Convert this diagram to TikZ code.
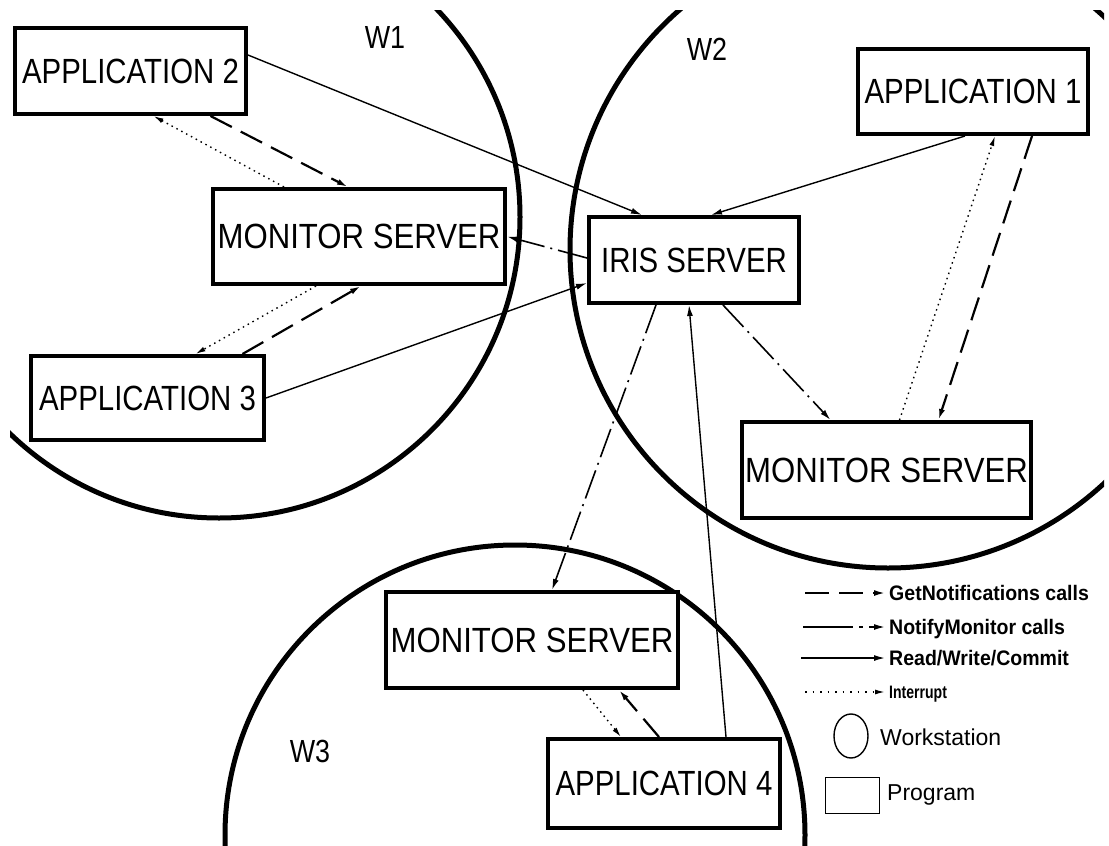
\documentclass[tikz,border=0pt]{standalone}
\usepackage{fontspec}
\setmainfont{Liberation Sans}
\newfontfamily\progfamily[FakeStretch=0.84]{Liberation Sans}
\newfontfamily\monfamily[FakeStretch=0.89]{Liberation Sans}
\newfontfamily\keyfamily[FakeStretch=0.93]{Liberation Sans}
\newfontfamily\tinykeyfamily[FakeStretch=0.78]{Liberation Sans}
\usetikzlibrary{arrows.meta, shapes.geometric, positioning}

\newcommand{\progface}{\progfamily\fontsize{35pt}{40pt}\selectfont}
\newcommand{\monface}{\monfamily\fontsize{35pt}{40pt}\selectfont}
\newcommand{\wface}{\progfamily\fontsize{32pt}{36pt}\selectfont}
\newcommand{\keyface}{\keyfamily\bfseries\fontsize{21pt}{24pt}\selectfont}
\newcommand{\tinykeyface}{\tinykeyfamily\bfseries\fontsize{18pt}{20pt}\selectfont}
\newcommand{\plainface}{\fontsize{23pt}{26pt}\selectfont}

\tikzset{
  prog/.style={draw, line width=4pt, fill=white, inner sep=0pt, font=\progface},
  monprog/.style={prog, font=\monface},
  wsline/.style={line width=5pt},
  wlabel/.style={font=\wface, inner sep=0pt},
  rwc/.style={-{Latex[length=11pt,width=6pt]}, line width=1.4pt},
  getnote/.style={-{Latex[length=11pt,width=6pt]}, line width=2.2pt, dash pattern=on 24pt off 10pt},
  notify/.style={-{Latex[length=11pt,width=6pt]}, line width=1.6pt, dash pattern=on 30pt off 6pt on 2pt off 6pt},
  intr/.style={-{Latex[length=10pt,width=5pt]}, line width=1.4pt, dash pattern=on 1.5pt off 4pt},
  keytext/.style={anchor=west, inner sep=4pt, text height=15pt, text depth=0pt, font=\keyface},
  symtext/.style={anchor=west, inner sep=0pt, text height=16.5pt, text depth=0pt, font=\plainface},
}

\begin{document}
\begin{tikzpicture}[x=1pt, y=-1pt]
  \useasboundingbox (0,0) rectangle (1109,846);

  % Workstations
  \begin{scope}
    \clip (10,10) rectangle (1104,846);
    \draw[wsline] (219,217) circle[radius=301];
    \draw[wsline] (888,250) circle[radius=318];
    \draw[wsline] (515,835) circle[radius=290];
  \end{scope}

  \node[wlabel] (w1) at (385,37) {W1};
  \node[wlabel] (w2) at (707,49) {W2};
  \node[wlabel] (w3) at (310,751) {W3};

  % Programs
  \node[prog, minimum width=231pt, minimum height=86pt] (app2) at (130.5,71) {APPLICATION 2};
  \node[monprog, minimum width=292pt, minimum height=95pt] (mon1) at (359,236.5) {MONITOR SERVER};
  \node[prog, minimum width=233pt, minimum height=84pt] (app3) at (147.5,398) {APPLICATION 3};
  \node[prog, minimum width=210pt, minimum height=86pt] (iris) at (694,260) {IRIS SERVER};
  \node[prog, minimum width=230pt, minimum height=85pt] (app1) at (973,91.5) {APPLICATION 1};
  \node[monprog, minimum width=289pt, minimum height=96pt] (mon2) at (886.5,470) {MONITOR SERVER};
  \node[monprog, minimum width=292pt, minimum height=96pt] (mon3) at (532,640) {MONITOR SERVER};
  \node[prog, minimum width=232pt, minimum height=89pt] (app4) at (664,783.5) {APPLICATION 4};

  % Read/Write/Commit
  \draw[rwc] ([yshift=16pt]app2.east) -- ([xshift=-52pt]iris.north);
  \draw[rwc] ([xshift=-8pt]app1.south) -- ([xshift=17pt]iris.north);
  \draw[rwc] (app3.east) -- ([yshift=-23pt]iris.west);
  \draw[rwc] ([xshift=62pt]app4.north) -- ([xshift=-5pt]iris.south);

  % NotifyMonitor calls
  \draw[notify] ([yshift=2pt]iris.west) -- (mon1.east);
  \draw[notify] ([xshift=29pt]iris.south) -- ([xshift=-56pt]mon2.north);
  \draw[notify] ([xshift=-38pt]iris.south) -- ([xshift=20pt]mon3.north);

  % GetNotifications calls
  \draw[getnote] ([xshift=80pt]app2.south) -- ([xshift=-11pt]mon1.north);
  \draw[getnote] ([xshift=95pt]app3.north) -- ([xshift=2pt]mon1.south);
  \draw[getnote] ([xshift=59pt]app1.south) -- ([xshift=52pt]mon2.north);
  \draw[getnote] ([xshift=-5pt]app4.north) -- ([xshift=87pt]mon3.south);

  % Interrupts
  \draw[intr] ([xshift=-75pt]mon1.north) -- ([xshift=23pt]app2.south);
  \draw[intr] ([xshift=-43pt]mon1.south) -- ([xshift=48pt]app3.north);
  \draw[intr] ([xshift=13pt]mon2.north) -- ([xshift=22pt]app1.south);
  \draw[intr] ([xshift=51pt]mon3.south) -- ([xshift=-43pt]app4.north);

  % Legend
  \coordinate (kget) at (805,593);
  \coordinate (knot) at (803,627);
  \coordinate (krwc) at (801,658);
  \coordinate (kint) at (805,692);
  \node[keytext] (tget) at (885,593) {GetNotifications calls};
  \node[keytext] (tnot) at (885,627) {NotifyMonitor calls};
  \node[keytext] (trwc) at (885,658) {Read/Write/Commit};
  \node[keytext, font=\tinykeyface, text height=13pt] (tint) at (885,692) {Interrupt};
  \draw[getnote, line width=1.8pt] (kget) -- (tget.west);
  \draw[notify, dash pattern=on 50pt off 6pt on 4pt off 6pt] (knot) -- (tnot.west);
  \draw[rwc] (krwc) -- (trwc.west);
  \draw[intr, dash pattern=on 1.5pt off 6pt] (kint) -- (tint.west);

  \node[draw, ellipse, line width=1.4pt, minimum width=34pt, minimum height=44pt, inner sep=0pt] (wsym) at (851,736) {};
  \node[symtext] (twsym) at (880,737) {Workstation};
  \node[draw, line width=1.4pt, minimum width=54pt, minimum height=36pt, inner sep=0pt] (progsym) at (852.5,795.5) {};
  \node[symtext] (tprog) at (887,792) {Program};
\end{tikzpicture}
\end{document}
